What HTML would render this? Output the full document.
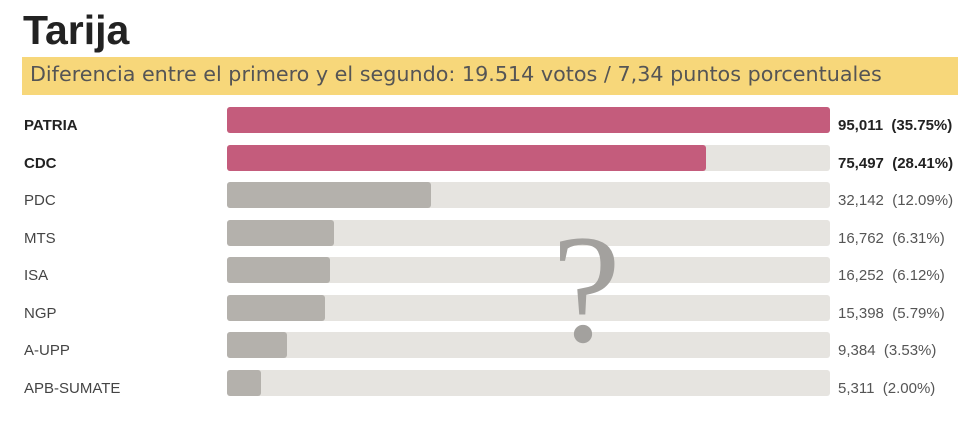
<!DOCTYPE html>
<html><head><meta charset="utf-8"><style>
body{margin:0;width:980px;height:428px;background:#fff;position:relative;overflow:hidden;font-family:"Liberation Sans",Arial,sans-serif}
.t{position:absolute;left:23px;top:7px;font-size:41px;font-weight:bold;color:#222}
.band{position:absolute;left:22px;top:57px;width:936px;height:38px;background:#f7d77a}
.band span{position:absolute;left:8px;top:5px;font-family:"DejaVu Sans",sans-serif;font-size:20.7px;color:#555}
.l{position:absolute;left:24px;font-size:15px;color:#444}
.b{position:absolute;left:227px;width:603px;height:26px;background:#e6e4e0;border-radius:3px}
.f{position:absolute;left:0;top:0;height:26px;background:#b4b1ac;border-radius:3px}
.v{position:absolute;left:838px;font-size:15px;color:#555;white-space:pre}
.bold{font-weight:bold;color:#222}
.q{position:absolute;left:552px;top:212px;font-family:"Liberation Serif",serif;font-size:155px;color:#a3a19e;line-height:1}
</style></head><body>
<div class="t">Tarija</div>
<div class="band"><span>Diferencia entre el primero y el segundo: 19.514 votos / 7,34 puntos porcentuales</span></div>

<div class="l bold" style="top:117px">PATRIA</div>
<div class="b" style="top:107px"><div class="f" style="width:603px;background:#c45c7c"></div></div>
<div class="v bold" style="top:117px">95,011  (35.75%)</div>

<div class="l bold" style="top:155px">CDC</div>
<div class="b" style="top:145px"><div class="f" style="width:479px;background:#c45c7c"></div></div>
<div class="v bold" style="top:155px">75,497  (28.41%)</div>

<div class="l" style="top:192px">PDC</div>
<div class="b" style="top:182px"><div class="f" style="width:204px"></div></div>
<div class="v" style="top:192px">32,142  (12.09%)</div>

<div class="l" style="top:230px">MTS</div>
<div class="b" style="top:220px"><div class="f" style="width:107px"></div></div>
<div class="v" style="top:230px">16,762  (6.31%)</div>

<div class="l" style="top:267px">ISA</div>
<div class="b" style="top:257px"><div class="f" style="width:103px"></div></div>
<div class="v" style="top:267px">16,252  (6.12%)</div>

<div class="l" style="top:305px">NGP</div>
<div class="b" style="top:295px"><div class="f" style="width:98px"></div></div>
<div class="v" style="top:305px">15,398  (5.79%)</div>

<div class="l" style="top:342px">A-UPP</div>
<div class="b" style="top:332px"><div class="f" style="width:60px"></div></div>
<div class="v" style="top:342px">9,384  (3.53%)</div>

<div class="l" style="top:380px">APB-SUMATE</div>
<div class="b" style="top:370px"><div class="f" style="width:34px"></div></div>
<div class="v" style="top:380px">5,311  (2.00%)</div>

<div class="q">?</div>
</body></html>
